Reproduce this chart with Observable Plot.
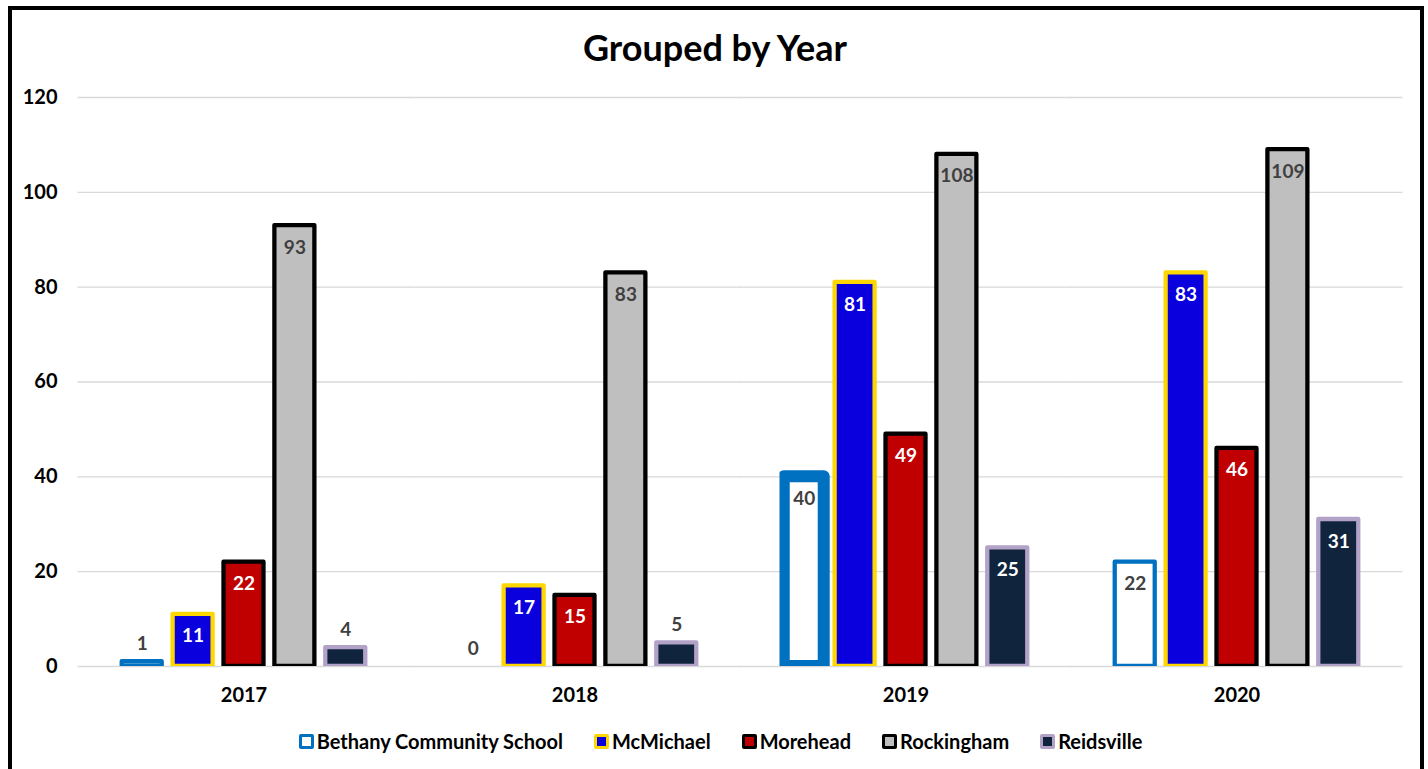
<!DOCTYPE html>
<html>
<head>
<meta charset="utf-8">
<script src="https://cdn.jsdelivr.net/npm/d3@7"></script>
<script src="https://cdn.jsdelivr.net/npm/@observablehq/plot@0.6"></script>
<style>
  html, body { margin: 0; padding: 0; background: #fff; overflow: hidden; }
  body { width: 1428px; height: 769px; position: relative; font-family: Lato, "Open Sans", sans-serif; }
  #frame { position: absolute; left: 8px; top: 6px; width: 1416px; height: 820px; border: 4px solid #000; box-sizing: border-box; }
  #title { position: absolute; left: 0; top: 25px; width: 1430px; text-align: center; font-weight: bold; font-size: 36px; line-height: 44px; color: #000; }
  #chart { position: absolute; left: 0; top: 75px; }
  #legend { position: absolute; left: 0; top: 729px; width: 1441px; display: flex; justify-content: center; gap: 31px; font-weight: bold; font-size: 20px; line-height: 24px; color: #000; }
  .item { display: flex; align-items: center; gap: 3px; }
  .sw { width: 9px; height: 9px; border: 3px solid; border-radius: 2px; display: inline-block; }
</style>
</head>
<body>
<div id="frame"></div>
<div id="title">Grouped by Year</div>
<div id="chart"></div>
<div id="legend"></div>
<script>
const years = ["2017", "2018", "2019", "2020"];
const schools = ["Bethany Community School", "McMichael", "Morehead", "Rockingham", "Reidsville"];
const bethany = [1, 0, 40, 22];
const mcmichael = [11, 17, 81, 83];
const morehead = [22, 15, 49, 46];
const rockingham = [93, 83, 108, 109];
const reidsville = [4, 5, 25, 31];
const yTicks = [0, 20, 40, 60, 80, 100, 120];

const series = [bethany, mcmichael, morehead, rockingham, reidsville];
const data = years.flatMap((year, i) => schools.map((school, j) => ({year, school, value: series[j][i]})));

const fillColor = {
  "Bethany Community School": "#FFFFFF",
  "McMichael": "#0A00DE",
  "Morehead": "#C00000",
  "Rockingham": "#BFBFBF",
  "Reidsville": "#10243E"
};
const strokeColor = {
  "Bethany Community School": "#0070C0",
  "McMichael": "#FFD700",
  "Morehead": "#000000",
  "Rockingham": "#000000",
  "Reidsville": "#B3A2C7"
};
const labelColor = {
  "Bethany Community School": "#404040",
  "McMichael": "#FFFFFF",
  "Morehead": "#FFFFFF",
  "Rockingham": "#404040",
  "Reidsville": "#FFFFFF"
};
const thick = d => (d.year === "2019" && d.school === schools[0]) ? 12 : 4.3;
const small = d => d.value < 8;

const chart = Plot.plot({
  width: 1428,
  height: 640,
  marginLeft: 117.5,
  marginRight: 65.5,
  marginTop: 22,
  marginBottom: 49,
  style: {fontFamily: "Lato, sans-serif", fontWeight: "bold", fontSize: "20px", color: "#000", background: "transparent", overflow: "visible"},
  fx: {domain: years, paddingInner: 0.2387, paddingOuter: 0, round: false, label: null, axis: "bottom", tickSize: 0, tickPadding: 21},
  x: {domain: schools, paddingInner: 0.214, paddingOuter: 0.083, round: false, axis: null},
  y: {domain: [0, 120], ticks: 6, tickSize: 0, tickPadding: 60.5, label: null},
  color: {type: "identity"},
  marks: [
    Plot.ruleY(yTicks, {stroke: "#D9D9D9", strokeWidth: 1.3, insetLeft: -40, insetRight: -40}),
    Plot.barY(data.filter(d => d.value > 0), {
      fx: "year", x: "school", y: "value",
      fill: d => fillColor[d.school],
      stroke: d => strokeColor[d.school],
      strokeWidth: thick,
      strokeLinejoin: "round",
      clip: true
    }),
    Plot.text(data.filter(d => !small(d)), {
      fx: "year", x: "school", y: "value", text: d => String(d.value),
      dy: 22, fill: d => labelColor[d.school], fontSize: 19, fontWeight: "bold"
    }),
    Plot.text(data.filter(small), {
      fx: "year", x: "school", y: "value", text: d => String(d.value),
      dy: -18, fill: "#404040", fontSize: 19, fontWeight: "bold"
    })
  ]
});
document.getElementById("chart").appendChild(chart);

const legend = document.getElementById("legend");
schools.forEach(s => {
  const item = document.createElement("div");
  item.className = "item";
  const sw = document.createElement("span");
  sw.className = "sw";
  sw.style.background = fillColor[s];
  sw.style.borderColor = strokeColor[s];
  item.appendChild(sw);
  const t = document.createElement("span");
  t.textContent = s;
  item.appendChild(t);
  legend.appendChild(item);
});
</script>
</body>
</html>
